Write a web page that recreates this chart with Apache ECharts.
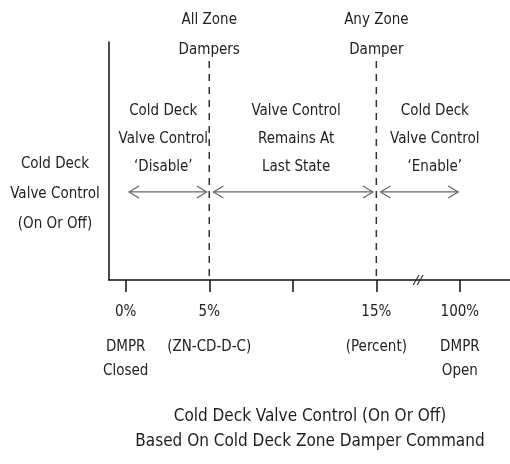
<!DOCTYPE html>
<html>
<head>
<meta charset="utf-8">
<script src="https://cdn.jsdelivr.net/npm/echarts@6/dist/echarts.min.js"></script>
<style>
  html, body { margin: 0; padding: 0; background: #fff; }
  #chart { width: 510px; height: 464px; }
</style>
</head>
<body>
<div id="chart"></div>
<script>
const fonte = "'Liberation Sans Narrow', 'DejaVu Sans Condensed', sans-serif";

// posicoes dos ticks (0%, 5%, sem rotulo, 15%, 100%)
const ticks = [0, 1, 2, 3, 4];
const rotulosTick = ['0%', '5%', '', '15%', '100%'];
const subRotulos = [['DMPR', 'Closed'], ['(ZN-CD-D-C)'], [], ['(Percent)'], ['DMPR', 'Open']];

// linhas tracejadas nos limites
const limites = [1, 3];
const rotulosLimite = ['All Zone\nDampers', 'Any Zone\nDamper'];
const topoTracejado = 92;
const alturaRotuloLimite = 103;

// faixas com setas
const faixasInicio = [0.04, 1.05, 3.05];
const faixasFim = [0.97, 2.96, 3.98];
const alturaSeta = 37;
const centrosTexto = [0.45, 2.04, 3.70];
const alturaTexto = 59;
const textosFaixa = [
  "Cold Deck\nValve Control\n\u2018Disable\u2019",
  "Valve Control\nRemains At\nLast State",
  "Cold Deck\nValve Control\n\u2018Enable\u2019"
];

// quebra do eixo
const quebraEixo = [3.5];

function rotuloEixo(valor) {
  let i = ticks.indexOf(Math.round(valor));
  if (i < 0 || rotulosTick[i] === '') return '';
  let s = '{a|' + rotulosTick[i] + '}';
  subRotulos[i].forEach((t) => { s += '\n{b|' + t + '}' });
  return s;
}

const option = {
  animation: false,
  backgroundColor: '#fff',
  title: [
    {
      text: 'Cold Deck Valve Control (On Or Off)\nBased On Cold Deck Zone Damper Command',
      left: 310,
      top: 404,
      padding: 0,
      textAlign: 'center',
      textStyle: { fontFamily: fonte, fontSize: 17, fontWeight: 'normal', color: '#1e1e1e', lineHeight: 25 }
    },
    {
      text: 'Cold Deck\nValve Control\n(On Or Off)',
      left: 55,
      top: 149,
      padding: 0,
      textAlign: 'center',
      textStyle: { fontFamily: fonte, fontSize: 15, fontWeight: 'normal', color: '#222', lineHeight: 30 }
    }
  ],
  grid: { left: 109, right: 0, top: 42, bottom: 184 },
  xAxis: {
    type: 'value',
    min: -0.2,
    max: 4.6,
    splitLine: { show: false },
    axisLine: { lineStyle: { color: '#111', width: 1.5 } },
    axisTick: { customValues: ticks, length: 12, lineStyle: { color: '#111', width: 1.5 } },
    axisLabel: {
      customValues: [0, 1, 3, 4],
      margin: 9,
      formatter: rotuloEixo,
      color: '#222',
      fontFamily: fonte,
      fontSize: 15,
      rich: {
        a: { fontFamily: fonte, fontSize: 15, color: '#222', lineHeight: 46 },
        b: { fontFamily: fonte, fontSize: 15, color: '#222', lineHeight: 24 }
      }
    }
  },
  yAxis: {
    type: 'value',
    min: 0,
    max: 100,
    splitLine: { show: false },
    axisTick: { show: false },
    axisLabel: { show: false },
    axisLine: { show: true, onZero: false, lineStyle: { color: '#111', width: 1.5 } }
  },
  series: [
    {
      type: 'custom',
      name: 'limites',
      clip: false,
      data: limites.map((x, i) => [x, topoTracejado, i]),
      renderItem: function (params, api) {
        const x = api.value(0);
        const i = api.value(2);
        const topo = api.coord([x, api.value(1)]);
        const base = api.coord([x, 0]);
        const rot = api.coord([x, alturaRotuloLimite]);
        return {
          type: 'group',
          children: [
            {
              type: 'line',
              shape: { x1: topo[0], y1: topo[1], x2: base[0], y2: base[1] },
              style: { stroke: '#333', lineWidth: 1.5, lineDash: [7, 6] }
            },
            {
              type: 'text',
              style: {
                text: rotulosLimite[i], x: rot[0], y: rot[1],
                align: 'center', verticalAlign: 'middle',
                font: '15px ' + fonte, lineHeight: 30, fill: '#222'
              }
            }
          ]
        };
      }
    },
    {
      type: 'custom',
      name: 'faixas',
      clip: false,
      data: faixasInicio.map((x, i) => [x, faixasFim[i], alturaSeta, i]),
      renderItem: function (params, api) {
        const i = api.value(3);
        const p1 = api.coord([api.value(0), api.value(2)]);
        const p2 = api.coord([api.value(1), api.value(2)]);
        const t = api.coord([centrosTexto[i], alturaTexto]);
        const cor = '#666';
        return {
          type: 'group',
          children: [
            {
              type: 'line',
              shape: { x1: p1[0], y1: p1[1], x2: p2[0], y2: p2[1] },
              style: { stroke: cor, lineWidth: 1.2 }
            },
            {
              type: 'polyline',
              shape: { points: [[p1[0] + 10, p1[1] - 6], [p1[0], p1[1]], [p1[0] + 10, p1[1] + 6]] },
              style: { stroke: cor, lineWidth: 1.2, fill: null }
            },
            {
              type: 'polyline',
              shape: { points: [[p2[0] - 10, p2[1] - 6], [p2[0], p2[1]], [p2[0] - 10, p2[1] + 6]] },
              style: { stroke: cor, lineWidth: 1.2, fill: null }
            },
            {
              type: 'text',
              style: {
                text: textosFaixa[i], x: t[0], y: t[1],
                align: 'center', verticalAlign: 'middle',
                font: '15px ' + fonte, lineHeight: 28, fill: '#222'
              }
            }
          ]
        };
      }
    },
    {
      type: 'custom',
      name: 'quebra',
      clip: false,
      data: quebraEixo.map((x) => [x, 0]),
      renderItem: function (params, api) {
        const p = api.coord([api.value(0), api.value(1)]);
        return {
          type: 'group',
          children: [-2, 2].map((d) => ({
            type: 'line',
            shape: { x1: p[0] + d - 3, y1: p[1] + 5, x2: p[0] + d + 3, y2: p[1] - 5 },
            style: { stroke: '#333', lineWidth: 1.2 }
          }))
        };
      }
    }
  ]
};

const chart = echarts.init(document.getElementById('chart'));
chart.setOption(option);
</script>
</body>
</html>
